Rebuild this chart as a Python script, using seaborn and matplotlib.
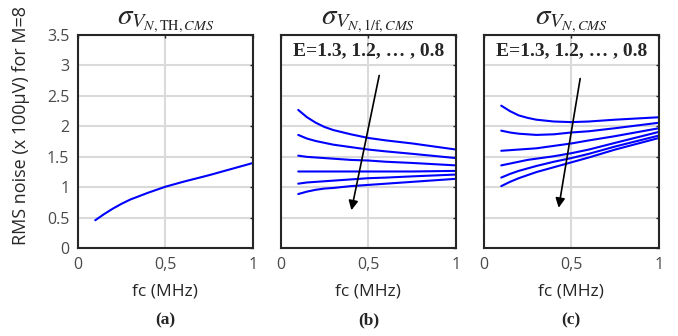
import pandas as pd
import matplotlib.pyplot as plt
import seaborn as sns

# frequency grid (MHz)
fc = [0.1, 0.15, 0.2, 0.25, 0.3, 0.4, 0.5, 0.6, 0.75, 1.0]

# (a) thermal noise
th_noise = [0.46, 0.56, 0.65, 0.73, 0.80, 0.91, 1.01, 1.09, 1.20, 1.40]

# (b) 1/f noise, E = 1.3 ... 0.8
e_values = [1.3, 1.2, 1.1, 1.0, 0.9, 0.8]
flicker_noise = [
    [2.27, 2.15, 2.06, 1.99, 1.94, 1.87, 1.81, 1.77, 1.72, 1.62],
    [1.86, 1.80, 1.76, 1.73, 1.70, 1.66, 1.62, 1.59, 1.55, 1.48],
    [1.52, 1.50, 1.49, 1.48, 1.47, 1.45, 1.44, 1.42, 1.40, 1.36],
    [1.26, 1.26, 1.26, 1.26, 1.26, 1.26, 1.26, 1.26, 1.26, 1.27],
    [1.06, 1.08, 1.09, 1.10, 1.11, 1.13, 1.15, 1.16, 1.18, 1.21],
    [0.89, 0.93, 0.96, 0.98, 0.99, 1.02, 1.04, 1.06, 1.09, 1.14],
]

# (c) total noise
total_noise = [
    [2.34, 2.25, 2.18, 2.14, 2.11, 2.08, 2.07, 2.08, 2.11, 2.15],
    [1.93, 1.90, 1.88, 1.87, 1.86, 1.87, 1.90, 1.92, 1.97, 2.06],
    [1.60, 1.61, 1.62, 1.63, 1.64, 1.68, 1.72, 1.77, 1.84, 1.97],
    [1.36, 1.39, 1.42, 1.45, 1.47, 1.51, 1.56, 1.62, 1.73, 1.91],
    [1.16, 1.22, 1.27, 1.31, 1.35, 1.42, 1.48, 1.55, 1.67, 1.85],
    [1.02, 1.09, 1.15, 1.20, 1.25, 1.33, 1.41, 1.49, 1.62, 1.81],
]

titles = [r'$\sigma_{V_{N,\mathrm{TH},CMS}}$',
          r'$\sigma_{V_{N,1/\mathrm{f},CMS}}$',
          r'$\sigma_{V_{N,CMS}}$']
panel_tags = ['(a)', '(b)', '(c)']
x_ticks = [0, 0.5, 1]
x_ticklabels = ['0', '0,5', '1']
y_ticks = [0, 0.5, 1, 1.5, 2, 2.5, 3, 3.5]
y_ticklabels = ['0', '0.5', '1', '1.5', '2', '2.5', '3', '3.5']

# arrows (start x, start y, end x, end y)
arrow_b = (0.565, 2.88, 0.40, 0.58)
arrow_c = (0.553, 2.83, 0.425, 0.62)


def to_long(curves):
    rows = []
    for e, ys in zip(e_values, curves):
        for x, y in zip(fc, ys):
            rows.append({'fc': x, 'noise': y, 'E': e})
    return pd.DataFrame(rows)


sns.set_style('white')
plt.rcParams['font.family'] = ['Open Sans', 'DejaVu Sans']
plt.rcParams['mathtext.fontset'] = 'stix'

fig = plt.figure(figsize=(6.78, 3.36), dpi=100)
lefts = [0.1146, 0.414, 0.7134]
axes = [fig.add_axes([l, 0.261, 0.2586, 0.635]) for l in lefts]

df_a = pd.DataFrame({'fc': fc, 'noise': th_noise})
sns.lineplot(data=df_a, x='fc', y='noise', ax=axes[0], color='#0000ff', linewidth=1.5)

sns.lineplot(data=to_long(flicker_noise), x='fc', y='noise', units='E', estimator=None,
             ax=axes[1], color='#0000ff', linewidth=1.5)
sns.lineplot(data=to_long(total_noise), x='fc', y='noise', units='E', estimator=None,
             ax=axes[2], color='#0000ff', linewidth=1.5)

for i, ax in enumerate(axes):
    ax.set_xlim(0, 1)
    ax.set_ylim(0, 3.5)
    ax.set_xticks(x_ticks)
    ax.set_yticks(y_ticks)
    ax.set_xticklabels(x_ticklabels)
    if i == 0:
        ax.set_yticklabels(y_ticklabels)
        ax.set_ylabel('RMS noise (x 100µV) for M=8', fontsize=13, color='#262626')
        ax.yaxis.set_label_coords(-0.27, 0.577)
    else:
        ax.set_yticklabels([])
        ax.set_ylabel('')
    ax.set_xlabel('fc (MHz)', fontsize=12.5, color='#262626', labelpad=8)
    ax.grid(True, color='#dadada', linewidth=1.5)
    ax.set_axisbelow(True)
    ax.tick_params(direction='in', length=2.5, width=1, color='#262626',
                   labelsize=11.5, labelcolor='#4a4a4a', top=True, right=True, pad=6)
    for sp in ax.spines.values():
        sp.set_color('#262626')
        sp.set_linewidth(1.5)
    ax.set_title(titles[i], fontsize=21, pad=8)
    fig.text(lefts[i] + 0.2586 / 2, 0.045, panel_tags[i], ha='center', va='center',
             fontsize=12.5, fontweight='bold', family='Liberation Serif')

for ax, arr in zip(axes[1:], [arrow_b, arrow_c]):
    ax.text(0.5, 3.24, 'E=1.3, 1.2, … , 0.8', ha='center', va='center',
            fontsize=14, fontweight='bold', family='Liberation Serif')
    ax.annotate('', xy=(arr[2], arr[3]), xytext=(arr[0], arr[1]),
                arrowprops=dict(arrowstyle='-|>', color='black', lw=1.2,
                                mutation_scale=14))

fig.savefig('out.png', dpi=100)
